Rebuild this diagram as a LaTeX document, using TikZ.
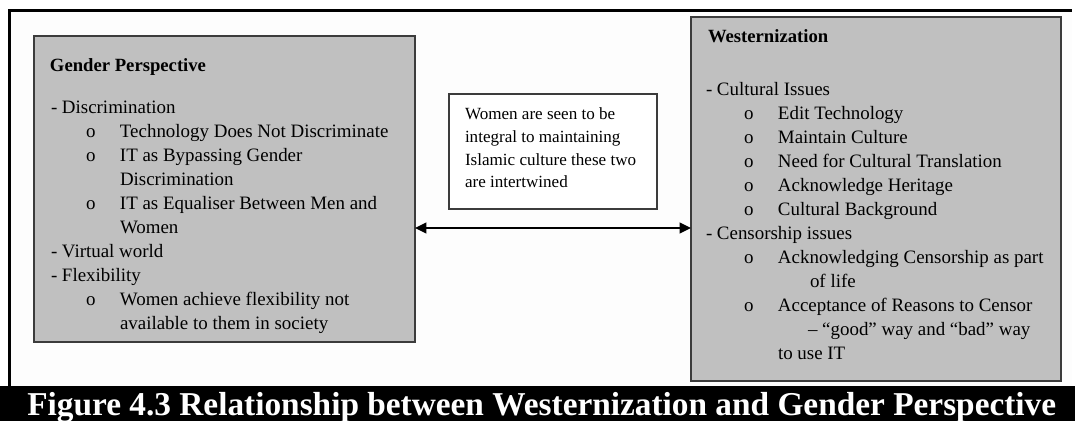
\documentclass[tikz,border=0pt]{standalone}
\usepackage{fontspec}
\setmainfont{Liberation Serif}
\usetikzlibrary{arrows.meta}
\definecolor{boxgray}{HTML}{C0C0C0}
\definecolor{edge}{HTML}{3C3C3C}
\definecolor{paper}{HTML}{FDFDFD}
% list helpers: a dash item and a bullet item with a hanging label
\newcommand{\dashln}[1]{\makebox[8.25pt][l]{-}#1}
\newcommand{\bulln}[1]{\makebox[25.5pt][l]{o}#1}
\begin{document}
\begin{tikzpicture}[x=0.75pt,y=-0.75pt,
  panel/.style={draw=edge, line width=1.1pt, fill=boxgray, anchor=north west, inner sep=0, outer sep=0},
  note/.style={draw=edge, line width=1.1pt, fill=white, anchor=north west, inner sep=0, outer sep=0},
  ln/.style={anchor=base west, inner sep=0, outer sep=0, font=\fontsize{14.2}{17}\selectfont},
  hd/.style={anchor=base west, inner sep=0, outer sep=0, font=\fontsize{14}{17}\selectfont\bfseries},
  nt/.style={anchor=base west, inner sep=0, outer sep=0, font=\fontsize{12.8}{15}\selectfont},
  reltip/.tip={Triangle[length=8.5pt,width=8pt]},
]
\useasboundingbox (0,0) rectangle (1075,421);
\fill[white] (0,0) rectangle (1075,421);
\fill[paper] (9,10) rectangle (1072,386);
\draw[line width=2pt] (9.5,386) -- (9.5,10.5) -- (1072,10.5);
\fill[black] (0,386) rectangle (1075,421);

% Gender perspective panel
\node[panel, minimum width=381*0.75pt, minimum height=306*0.75pt] (gender) at (34,36) {};
\node[hd] (g0) at (50,71) {Gender Perspective};
\node[ln] (g1) at (51,113) {\dashln{Discrimination}};
\node[ln] (g2) at (86,137) {\bulln{Technology Does Not Discriminate}};
\node[ln] (g3) at (86,161) {\bulln{IT as Bypassing Gender}};
\node[ln] (g4) at (120,185) {Discrimination};
\node[ln] (g5) at (86,209) {\bulln{IT as Equaliser Between Men and}};
\node[ln] (g6) at (120,233) {Women};
\node[ln] (g7) at (51,257) {\dashln{Virtual world}};
\node[ln] (g8) at (51,281) {\dashln{Flexibility}};
\node[ln] (g9) at (86,305) {\bulln{Women achieve flexibility not}};
\node[ln] (g10) at (120,329) {available to them in society};

% Westernization panel
\node[panel, minimum width=370*0.75pt, minimum height=364*0.75pt] (west) at (691,17) {};
\node[hd] (w0) at (708,42) {Westernization};
\node[ln] (w1) at (706,95) {\dashln{Cultural Issues}};
\node[ln] (w2) at (744,119) {\bulln{Edit Technology}};
\node[ln] (w3) at (744,143) {\bulln{Maintain Culture}};
\node[ln] (w4) at (744,167) {\bulln{Need for Cultural Translation}};
\node[ln] (w5) at (744,191) {\bulln{Acknowledge Heritage}};
\node[ln] (w6) at (744,215) {\bulln{Cultural Background}};
\node[ln] (w7) at (706,239) {\dashln{Censorship issues}};
\node[ln] (w8) at (744,263) {\bulln{Acknowledging Censorship as part}};
\node[ln] (w9) at (810,287) {of life};
\node[ln] (w10) at (744,311) {\bulln{Acceptance of Reasons to Censor}};
\node[ln] (w11) at (808,335) {– “good” way and “bad” way};
\node[ln] (w12) at (778,359) {to use IT};

% linking note
\node[note, minimum width=208*0.75pt, minimum height=115*0.75pt] (link) at (449,94) {};
\node[nt] (m1) at (465,119) {Women are seen to be};
\node[nt] (m2) at (465,142) {integral to maintaining};
\node[nt] (m3) at (465,165) {Islamic culture these two};
\node[nt] (m4) at (465,187) {are intertwined};

% two-way relation
\coordinate (ay) at (0,228);
\draw[line width=1.5pt, reltip-reltip] (gender.east |- ay) -- (west.west |- ay);

% caption bar
\node[anchor=base west, inner sep=0, text=white, font=\fontsize{25}{30}\selectfont\bfseries] (cap) at (27,415) {Figure 4.3 Relationship between Westernization and Gender Perspective};
\end{tikzpicture}
\end{document}
